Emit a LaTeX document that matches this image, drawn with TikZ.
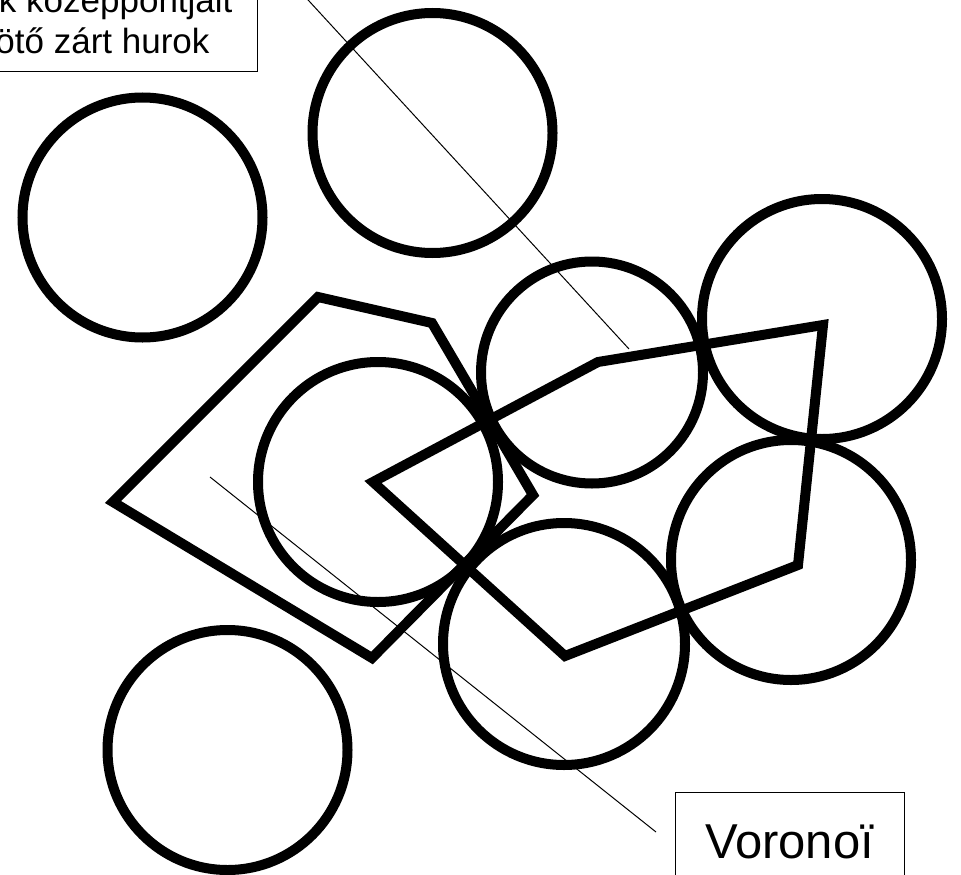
\documentclass[tikz,border=0pt]{standalone}
\usepackage{fontspec}
\setmainfont{Liberation Sans}
\begin{document}
\begin{tikzpicture}[x=1pt,y=-1pt,
  ring/.style={draw=black, line width=10pt},
  loopline/.style={draw=black, line width=10pt, line join=miter, miter limit=10},
  pointer/.style={draw=black, line width=1pt},
  labelbox/.style={draw=black, line width=1pt, fill=white}]
\useasboundingbox (0,0) rectangle (961,875);
\clip (0,0) rectangle (961,875);
% circles
\draw[ring] (432.5,133) circle[radius=120pt];
\draw[ring] (142.5,217.5) circle[radius=120pt];
\draw[ring] (822,319) circle[radius=120pt];
\draw[ring] (227.5,750) circle[radius=120pt];
\draw[ring] (564,644) circle[radius=121pt];
\draw[ring] (791,560) circle[radius=120pt];
\draw[ring] (592,372.5) circle[radius=111pt];
\draw[ring] (378,482) circle[radius=120pt];
% closed loops
\draw[loopline] (318,297) -- (432,323) -- (533,495) -- (372,658) -- (113,502) -- cycle;
\draw[loopline] (373,482) -- (598,362) -- (823,325) -- (798,565) -- (565,656) -- cycle;
% pointer lines
\coordinate (p1a) at (298,-11);
\coordinate (p1b) at (629,349);
\coordinate (p2a) at (210,477);
\coordinate (p2b) at (656,832);
\draw[pointer] (p1a) -- (p1b);
\draw[pointer] (p2a) -- (p2b);
% labels
\node[labelbox, anchor=south east, align=right, inner xsep=25pt, inner ysep=18pt,
      font={\fontsize{35}{41}\selectfont}] (loop) at (258,72)
  {A körök középpontjait\\összekötő zárt hurok\hspace*{23pt}};
\node[labelbox, anchor=base, minimum width=229pt, inner xsep=0pt, inner ysep=31pt,
      text height=35pt, text depth=0pt, font={\fontsize{49}{58}\selectfont}] (voronoi) at (789.5,858)
  {Voronoï};
\end{tikzpicture}
\end{document}
